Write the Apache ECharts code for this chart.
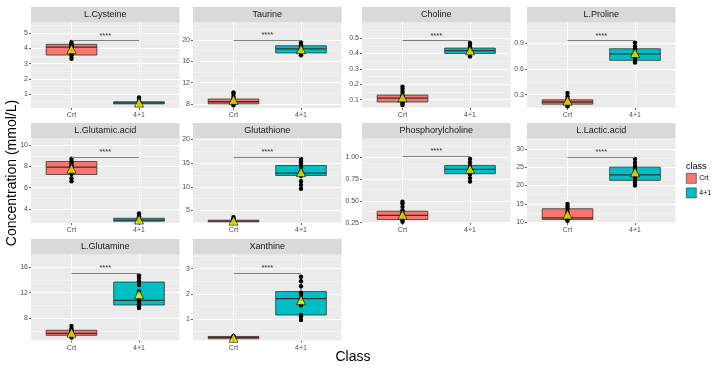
<!DOCTYPE html>
<html><head><meta charset="utf-8">
<script src="https://cdn.jsdelivr.net/npm/echarts@6/dist/echarts.min.js"></script>
<style>html,body{margin:0;padding:0;background:#fff}#c{width:717px;height:370px}</style>
</head><body><div id="c"></div>
<script>
// ---------- DATA ----------
const CLASSES = ['Crt', '4+1'];
const PANELS = ['L.Cysteine','Taurine','Choline','L.Proline','L.Glutamic.acid','Glutathione','Phosphorylcholine','L.Lactic.acid','L.Glutamine','Xanthine'];

// individual observations per panel
const crtPoints = [
  [3.32,3.5,3.62,3.8,3.95,4.05,4.12,4.2,4.3,4.42],
  [7.8,8.1,8.3,8.5,8.7,9.0,9.4,9.9,10.2],
  [0.065,0.075,0.09,0.1,0.11,0.12,0.13,0.15,0.17,0.185],
  [0.165,0.18,0.2,0.215,0.23,0.25,0.28,0.32],
  [6.6,6.9,7.3,7.6,7.9,8.1,8.3,8.5,8.75],
  [2.5,2.6,2.7,2.8,2.9,3.0,3.3,3.6],
  [0.26,0.28,0.3,0.32,0.34,0.36,0.39,0.43,0.47,0.49],
  [10.4,10.7,11.0,11.3,12.0,12.8,13.6,14.3,15.0],
  [5.0,5.3,5.5,5.7,5.9,6.1,6.4,6.8],
  [0.2,0.23,0.26,0.28,0.3,0.33]
];
const grpPoints = [
  [0.33,0.38,0.42,0.48,0.55,0.62,0.78],
  [17.1,17.5,17.9,18.2,18.5,18.8,19.1,19.5],
  [0.38,0.395,0.405,0.415,0.425,0.44,0.455,0.468],
  [0.675,0.7,0.73,0.76,0.78,0.8,0.83,0.86,0.905],
  [2.8,2.88,2.95,3.05,3.15,3.3,3.55],
  [9.6,10.4,11.2,12.3,12.8,13.3,14.2,14.9,15.4,15.9],
  [0.72,0.76,0.8,0.83,0.85,0.87,0.9,0.94,0.98],
  [20.0,20.8,21.5,22.3,22.9,23.7,24.5,25.3,26.2,27.2],
  [9.6,9.9,10.2,10.6,11.0,12.2,13.2,13.8,14.3,14.7],
  [0.96,1.1,1.16,1.55,1.8,1.95,2.05,2.3,2.5,2.68]
];
// box statistics [min, Q1, median, Q3, max]
const crtBox = [
  [3.32,3.56,4.08,4.26,4.42],
  [7.8,8.05,8.45,8.95,10.2],
  [0.065,0.085,0.11,0.13,0.185],
  [0.165,0.19,0.215,0.24,0.32],
  [6.6,7.25,7.94,8.48,8.75],
  [2.5,2.6,2.75,2.95,3.6],
  [0.26,0.285,0.333,0.38,0.49],
  [10.4,10.75,11.2,13.65,15.0],
  [5.0,5.36,5.67,6.14,6.8],
  [0.2,0.22,0.27,0.31,0.33]
];
const grpBox = [
  [0.33,0.36,0.42,0.5,0.78],
  [17.1,17.55,18.3,18.9,19.5],
  [0.38,0.4,0.418,0.435,0.468],
  [0.675,0.7,0.776,0.834,0.905],
  [2.8,2.82,2.93,3.1,3.55],
  [9.6,12.4,12.9,14.5,15.9],
  [0.72,0.81,0.86,0.905,0.98],
  [20.0,21.4,22.9,25.0,27.2],
  [9.6,10.08,10.81,13.66,14.7],
  [0.96,1.16,1.81,2.09,2.68]
];
const crtMean = [3.95,8.8,0.115,0.23,7.8,2.85,0.34,12.1,5.77,0.26];
const grpMean = [0.45,18.25,0.42,0.785,2.98,13.1,0.865,23.6,11.75,1.75];
const bracketY = [4.51,19.9,0.484,0.93,8.9,16.3,1.01,27.7,15.0,2.82];
const sigLabel = '****';

// axis ranges and tick labels
const yMin = [0.09,7.28,0.046,0.145,2.65,2.35,0.245,9.78,4.55,0.15];
const yMax = [5.69,23.23,0.601,1.14,10.66,20.21,1.214,32.8,17.95,3.56];
const yTicks = [
  [1,2,3,4,5],[8,12,16,20],[0.1,0.2,0.3,0.4,0.5],[0.3,0.6,0.9],
  [4,6,8,10],[5,10,15,20],[0.25,0.5,0.75,1.0],[10,15,20,25,30],
  [8,12,16],[1,2,3]
];
const yTickLabels = [
  ['1','2','3','4','5'],['8','12','16','20'],['0.1','0.2','0.3','0.4','0.5'],['0.3','0.6','0.9'],
  ['4','6','8','10'],['5','10','15','20'],['0.25','0.50','0.75','1.00'],['10','15','20','25','30'],
  ['8','12','16'],['1','2','3']
];

// ---------- LAYOUT / STYLE ----------
const COLORS = ['#F8766D', '#00BFC4'];
const COL_X = [31, 193, 362, 527];
const PANEL_W = 148.5;
const STRIP_TOP = [7, 123, 239];
const STRIP_H = 15.5;
const PANEL_H = [85.5, 84.5, 86];
const X_MIN = 0.4, X_MAX = 2.6, BOX_W = 0.75;
const FONT = '"Liberation Sans", Arial, sans-serif';

function renderBox(params, api) {
  const x = api.value(0);
  const lo = api.coord([x, api.value(1)]);
  const q1 = api.coord([x, api.value(2)]);
  const md = api.coord([x, api.value(3)]);
  const q3 = api.coord([x, api.value(4)]);
  const hi = api.coord([x, api.value(5)]);
  const w = api.size([BOX_W, 0])[0];
  const fill = api.visual('color');
  const stroke = '#333333';
  return {
    type: 'group',
    children: [
      { type: 'line', shape: { x1: lo[0], y1: lo[1], x2: q1[0], y2: q1[1] }, style: { stroke, lineWidth: 0.8 } },
      { type: 'line', shape: { x1: q3[0], y1: q3[1], x2: hi[0], y2: hi[1] }, style: { stroke, lineWidth: 0.8 } },
      { type: 'rect', shape: { x: q1[0] - w / 2, y: q3[1], width: w, height: q1[1] - q3[1] }, style: { fill, stroke, lineWidth: 0.8 } },
      { type: 'line', shape: { x1: md[0] - w / 2, y1: md[1], x2: md[0] + w / 2, y2: md[1] }, style: { stroke, lineWidth: 1.3 } }
    ]
  };
}

const grids = [], xAxes = [], yAxes = [], series = [], graphics = [];

PANELS.forEach((name, i) => {
  const col = i % 4, row = Math.floor(i / 4);
  const top = STRIP_TOP[row] + STRIP_H;
  grids.push({ left: COL_X[col], top: top, width: PANEL_W, height: PANEL_H[row], show: true, backgroundColor: '#EBEBEB', borderWidth: 0, z: 0 });
  const xs = CLASSES.map((c, k) => k + 1);
  xAxes.push({
    type: 'value', gridIndex: i, min: X_MIN, max: X_MAX,
    axisLine: { show: false },
    axisTick: { show: true, customValues: xs, length: 2, lineStyle: { color: '#333', width: 0.8 } },
    axisLabel: { customValues: xs, formatter: v => CLASSES[Math.round(v) - 1], fontSize: 7, color: '#4D4D4D', margin: 4, fontFamily: FONT },
    splitLine: { show: false }
  });
  const ticks = yTicks[i], labs = yTickLabels[i];
  yAxes.push({
    type: 'value', gridIndex: i, min: yMin[i], max: yMax[i],
    axisLine: { show: false },
    axisTick: { show: true, customValues: ticks, length: 2, lineStyle: { color: '#333', width: 0.8 } },
    axisLabel: {
      customValues: ticks, fontSize: 7, color: '#4D4D4D', margin: 3, fontFamily: FONT,
      formatter: v => { const k = ticks.findIndex(t => Math.abs(t - v) < 1e-9); return k >= 0 ? labs[k] : ''; }
    },
    splitLine: { show: false }
  });

  // gridlines (major + minor) through axis scales
  const step = ticks.length > 1 ? ticks[1] - ticks[0] : 1;
  const minors = [];
  for (let k = Math.floor((yMin[i] - ticks[0]) / step) - 1; k < 50; k++) {
    const v = ticks[0] + (k + 0.5) * step;
    if (v > yMax[i]) break;
    if (v >= yMin[i]) minors.push(v);
  }
  const glData = []
    .concat(minors.map(v => ({ yAxis: v, lineStyle: { color: '#FAFAFA', width: 0.5, type: 'solid' } })))
    .concat(ticks.map(v => ({ yAxis: v, lineStyle: { color: '#FFFFFF', width: 1, type: 'solid' } })))
    .concat(xs.map(v => ({ xAxis: v, lineStyle: { color: '#FFFFFF', width: 1, type: 'solid' } })));
  series.push({
    type: 'scatter', name: 'grid' + i, xAxisIndex: i, yAxisIndex: i, data: [[1, yMin[i]]], symbolSize: 0, silent: true, z: 1,
    markLine: { silent: true, z: 1, symbol: ['none', 'none'], label: { show: false }, animation: false, data: glData }
  });

  // boxes
  [crtBox[i], grpBox[i]].forEach((b, k) => {
    series.push({
      type: 'custom', name: CLASSES[k], xAxisIndex: i, yAxisIndex: i, z: 2,
      itemStyle: { color: COLORS[k] },
      renderItem: renderBox,
      encode: { x: 0, y: [1, 2, 3, 4, 5] },
      data: [[k + 1].concat(b)]
    });
  });

  // observations + significance bracket
  const pts = crtPoints[i].map(v => [1, v]).concat(grpPoints[i].map(v => [2, v]));
  series.push({
    type: 'scatter', name: 'pts' + i, xAxisIndex: i, yAxisIndex: i, z: 3,
    symbolSize: 4.4, itemStyle: { color: '#000', opacity: 1 }, data: pts,
    markLine: {
      silent: true, symbol: ['none', 'none'], animation: false,
      lineStyle: { color: '#7F7F7F', width: 1, type: 'solid' },
      label: { show: true, formatter: sigLabel, position: 'insideMiddleTop', distance: 1, fontSize: 7.5, color: '#333', fontFamily: FONT },
      data: [[{ coord: [1, bracketY[i]] }, { coord: [2, bracketY[i]] }]]
    }
  });
  // means
  series.push({
    type: 'scatter', name: 'mean' + i, xAxisIndex: i, yAxisIndex: i, z: 4,
    symbol: 'triangle', symbolSize: 9,
    itemStyle: { color: '#FFFF00', borderColor: '#000', borderWidth: 0.8 },
    data: [[1, crtMean[i]], [2, grpMean[i]]]
  });

  // strip
  graphics.push({
    type: 'rect', left: COL_X[col], top: STRIP_TOP[row], shape: { width: PANEL_W, height: STRIP_H }, style: { fill: '#D9D9D9' }, silent: true
  });
  graphics.push({
    type: 'text', x: COL_X[col] + PANEL_W / 2, y: STRIP_TOP[row] + STRIP_H / 2,
    style: { text: name, fill: '#1A1A1A', font: '9px ' + FONT, textAlign: 'center', textVerticalAlign: 'middle' }, silent: true
  });
});

graphics.push({
  type: 'text', x: 12, y: 173, rotation: Math.PI / 2,
  style: { text: 'Concentration (mmol/L)', fill: '#000', font: '14px ' + FONT, textAlign: 'center', textVerticalAlign: 'middle' }
});
graphics.push({
  type: 'text', x: 353, y: 357,
  style: { text: 'Class', fill: '#000', font: '14px ' + FONT, textAlign: 'center', textVerticalAlign: 'middle' }
});
graphics.push({
  type: 'text', x: 686, y: 167,
  style: { text: 'class', fill: '#000', font: '9px ' + FONT, textAlign: 'left', textVerticalAlign: 'middle' }
});

const chart = echarts.init(document.getElementById('c'), null, { renderer: 'canvas' });
chart.setOption({
  animation: false,
  backgroundColor: '#FFFFFF',
  grid: grids,
  xAxis: xAxes,
  yAxis: yAxes,
  legend: {
    data: CLASSES, orient: 'vertical', left: 686, top: 173, padding: 0,
    itemWidth: 10, itemHeight: 10, itemGap: 4, icon: 'rect',
    itemStyle: { borderColor: '#333', borderWidth: 0.6 },
    textStyle: { fontSize: 7, color: '#000', fontFamily: FONT, padding: [0, 0, 0, -2] },
    selectedMode: false
  },
  graphic: graphics,
  series: series
});
</script>
</body></html>
